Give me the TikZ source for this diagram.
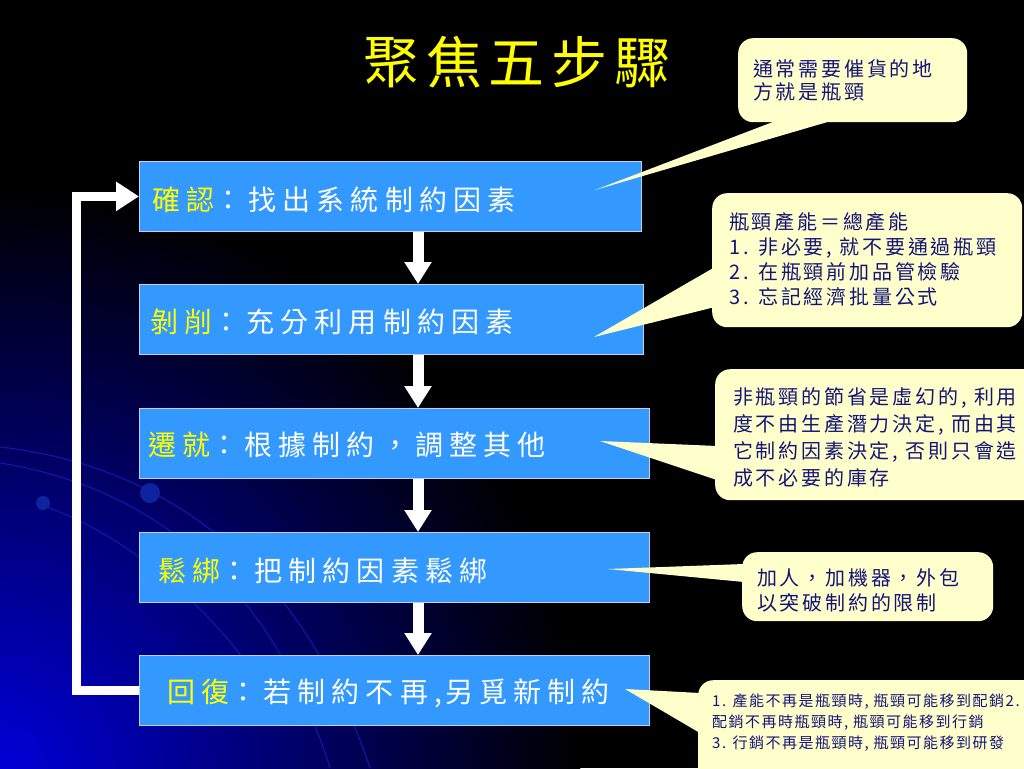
\documentclass[tikz,border=0pt]{standalone}
\usepackage{fontspec}
\usetikzlibrary{arrows.meta,calc}
\newfontfamily\boxfont[LetterSpace=22]{Noto Sans CJK TC}
\newfontfamily\titlefont[LetterSpace=12]{Noto Sans CJK TC}
\newfontfamily\callfont[LetterSpace=14]{Noto Sans CJK TC}
\newfontfamily\smallcallfont[LetterSpace=10]{Noto Sans CJK TC}
\definecolor{boxblue}{RGB}{51,153,255}
\definecolor{boxedge}{RGB}{190,210,235}
\definecolor{callbg}{RGB}{255,255,204}
\definecolor{calltext}{RGB}{20,20,120}
\definecolor{ttlyellow}{RGB}{255,255,0}
\definecolor{arcblue}{RGB}{20,20,165}
\definecolor{glowblue}{RGB}{0,0,215}
\definecolor{dotblue}{RGB}{15,35,160}
\begin{document}
\begin{tikzpicture}[x=1pt,y=-1pt,
  stepbox/.style={draw=boxedge, line width=0.8pt, fill=boxblue, anchor=north west, inner sep=0pt, minimum height=70pt},
  boxtxt/.style={anchor=west, inner sep=0pt, text=white, font=\boxfont\fontsize{28}{34}\selectfont},
  flowarrow/.style={draw=white, line width=11pt, -{Triangle[width=26pt,length=22pt]}},
  loopline/.style={draw=white, line width=9pt, -{Triangle[width=28pt,length=23pt]}},
  callout/.style={fill=callbg, rounded corners=15pt, anchor=north west, inner sep=0pt},
  wedge/.style={fill=callbg},
  calltxt/.style={anchor=north west, inner sep=0pt, align=left, text=calltext},
  arcline/.style={draw=arcblue, line width=1.2pt}
]
\useasboundingbox (0,0) rectangle (1024,768);
% background
\fill[black] (0,0) rectangle (1024,768);
\begin{scope}
  \clip (0,0) rectangle (1024,768);
  \fill[inner color=glowblue, outer color=black] (0,768) circle[radius=580pt];
  \draw[arcline] (0,447) .. controls (160,465) and (300,560) .. (370,768);
  \draw[arcline] (0,463) .. controls (150,487) and (270,580) .. (330,768);
  \draw[arcline] (40,505) .. controls (120,530) and (220,610) .. (270,700);
  \fill[dotblue] (43,503) circle[radius=7pt];
  \fill[dotblue] (150,493) circle[radius=10pt];
\end{scope}

% title
\node[text=ttlyellow, font=\titlefont\fontsize{56}{60}\selectfont, inner sep=0pt] (title) at (517,62) {聚焦五步驟};

% step boxes
\node[stepbox, minimum width=502pt] (b1) at (139,161) {};
\node[stepbox, minimum width=504pt] (b2) at (139,284) {};
\node[stepbox, minimum width=510pt] (b3) at (139,408) {};
\node[stepbox, minimum width=510pt] (b4) at (139,532) {};
\node[stepbox, minimum width=510pt] (b5) at (139,655) {};

\node[boxtxt] (t1) at (152,200) {\textcolor{ttlyellow}{確認}：找出系統制約因素};
\node[boxtxt] (t2) at (150,322) {\textcolor{ttlyellow}{剝削}：充分利用制約因素};
\node[boxtxt] (t3) at (148,445) {\textcolor{ttlyellow}{遷就}：根據制約，調整其他};
\node[boxtxt] (t4) at (158,571) {\textcolor{ttlyellow}{鬆綁}：把制約因素鬆綁};
\node[boxtxt] (t5) at (167,693) {\textcolor{ttlyellow}{回復}：若制約不再,\hspace{3pt}另覓新制約};

% flow arrows
\coordinate (ax) at (418,0);
\draw[flowarrow] (b1.south -| ax) -- (b2.north -| ax);
\draw[flowarrow] (b2.south -| ax) -- (b3.north -| ax);
\draw[flowarrow] (b3.south -| ax) -- (b4.north -| ax);
\draw[flowarrow] (b4.south -| ax) -- (b5.north -| ax);

% feedback loop
\coordinate (lx) at (76,0);
\draw[loopline] (b5.west) -- (b5.west -| lx) |- (b1.west);

% callouts
\node[callout, minimum width=229pt, minimum height=84pt] (c1) at (738,38) {};
\node[callout, minimum width=310pt, minimum height=134pt] (c2) at (712,193) {};
\node[callout, minimum width=330pt, minimum height=131pt] (c3) at (715,369) {};
\node[callout, minimum width=251pt, minimum height=69pt] (c4) at (742,552) {};
\node[callout, minimum width=350pt, minimum height=110pt] (c5) at (698,680) {};

\coordinate (p1) at (595,190);
\coordinate (p2) at (594,337);
\coordinate (p3) at (600,441);
\coordinate (p4) at (608,569);
\coordinate (p5) at (625,689);

\fill[wedge] ($(c1.south west)+(39,-2)$) -- (p1) -- ($(c1.south west)+(95,-2)$) -- cycle;
\fill[wedge] ($(c2.north west)+(3,74)$) -- (p2) -- ($(c2.north west)+(3,114)$) -- cycle;
\fill[wedge] ($(c3.north west)+(2,77)$) -- (p3) -- ($(c3.north west)+(2,111)$) -- cycle;
\fill[wedge] ($(c4.north west)+(2,12)$) -- (p4) -- ($(c4.north west)+(2,30)$) -- cycle;
\fill[wedge] ($(c5.north west)+(2,13)$) -- (p5) -- ($(c5.north west)+(2,53)$) -- cycle;

\node[calltxt, font=\callfont\fontsize{20}{23}\selectfont] (c1t) at (753,59) {通常需要催貨的地\\方就是瓶頸};
\node[calltxt, font=\callfont\fontsize{20}{25}\selectfont] (c2t) at (729,212) {瓶頸產能＝總產能\\1. 非必要, 就不要通過瓶頸\\2. 在瓶頸前加品管檢驗\\3. 忘記經濟批量公式};
\node[calltxt, font=\callfont\fontsize{20}{27}\selectfont] (c3t) at (733,387) {非瓶頸的節省是虛幻的, 利用\\度不由生產潛力決定, 而由其\\它制約因素決定, 否則只會造\\成不必要的庫存};
\node[calltxt, font=\callfont\fontsize{20}{25}\selectfont] (c4t) at (757,568) {加人，加機器，外包\\以突破制約的限制};
\node[calltxt, font=\smallcallfont\fontsize{15}{21}\selectfont] (c5t) at (712,693.5) {1. 產能不再是瓶頸時, 瓶頸可能移到配銷2.\\配銷不再時瓶頸時, 瓶頸可能移到行銷\\3. 行銷不再是瓶頸時, 瓶頸可能移到研發};
\end{tikzpicture}
\end{document}
